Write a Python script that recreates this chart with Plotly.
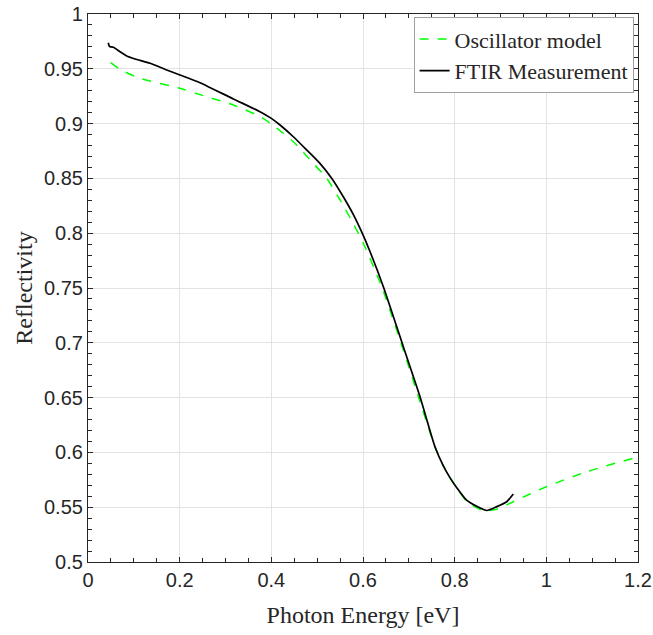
import plotly.graph_objects as go

# FTIR measurement (black solid)
ftir_x = [0.0444, 0.046, 0.048, 0.0553, 0.0698, 0.0844, 0.1026, 0.1353, 0.1717, 0.2007,
          0.2444, 0.317, 0.3753, 0.4, 0.419, 0.448, 0.477, 0.506, 0.532, 0.557, 0.579, 0.6,
          0.615, 0.6444, 0.688, 0.7244, 0.757, 0.775, 0.79, 0.805, 0.826, 0.85, 0.87, 0.892,
          0.9136, 0.928]
ftir_y = [0.9738, 0.971, 0.9702, 0.9696, 0.9656, 0.9617, 0.959, 0.955, 0.9489, 0.9443,
          0.9373, 0.9225, 0.9109, 0.9048, 0.8987, 0.888, 0.876, 0.8637, 0.85, 0.8333, 0.817, 0.7985,
          0.7835, 0.7512, 0.6964, 0.6508, 0.6052, 0.588, 0.5768, 0.5675, 0.5565, 0.5505, 0.547, 0.5505,
          0.555, 0.562]

# Oscillator model (green dashed)
osc_x = [0.0495, 0.0698, 0.1135, 0.2007, 0.2516, 0.317, 0.3753, 0.4, 0.448, 0.4916, 0.5208,
         0.55, 0.579, 0.6, 0.641, 0.688, 0.7207, 0.757, 0.775, 0.79, 0.805, 0.826, 0.8626, 0.89,
         0.928, 0.9644, 1.0, 1.088, 1.197]
osc_y = [0.9556, 0.9495, 0.9413, 0.9322, 0.9255, 0.917, 0.9065, 0.8996, 0.8835, 0.8637, 0.85,
         0.8303, 0.8085, 0.7915, 0.751, 0.6934, 0.651, 0.6052, 0.588, 0.5768, 0.5675, 0.5555, 0.5468, 0.548,
         0.555, 0.562, 0.5687, 0.5824, 0.5955]

fig = go.Figure()
fig.add_trace(go.Scatter(x=osc_x, y=osc_y, mode="lines", name="Oscillator model",
                         line=dict(color="#00ff00", width=1.5, dash="dash", shape="spline", smoothing=0.6)))
fig.add_trace(go.Scatter(x=ftir_x, y=ftir_y, mode="lines", name="FTIR Measurement",
                         line=dict(color="black", width=1.7, shape="spline", smoothing=0.6)))

serif = "Liberation Serif, DejaVu Serif"
axis_common = dict(showline=True, linecolor="#262626", linewidth=1.2, mirror="ticks",
                   ticks="inside", ticklen=5, tickcolor="#262626", automargin=False,
                   showgrid=True, gridcolor="#e3e3e3", gridwidth=1, zeroline=False,
                   tickfont=dict(family="Liberation Sans, Arial", size=20, color="#262626"))

fig.update_xaxes(range=[0, 1.2], tickvals=[0, 0.2, 0.4, 0.6, 0.8, 1, 1.2],
                 ticktext=["0", "0.2", "0.4", "0.6", "0.8", "1", "1.2"],
                 minor=dict(dtick=0.05, tick0=0, ticks="inside", ticklen=4, tickcolor="#262626", showgrid=False),
                 title=dict(text="Photon Energy [eV]", font=dict(family=serif, size=24, color="#262626"),
                            standoff=16),
                 **axis_common)
fig.update_yaxes(range=[0.5, 1], tickvals=[0.5, 0.55, 0.6, 0.65, 0.7, 0.75, 0.8, 0.85, 0.9, 0.95, 1],
                 ticktext=["0.5", "0.55", "0.6", "0.65", "0.7", "0.75", "0.8", "0.85", "0.9", "0.95", "1"],
                 minor=dict(dtick=0.01, tick0=0.5, ticks="inside", ticklen=4, tickcolor="#262626", showgrid=False),
                 title=dict(text="Reflectivity", font=dict(family=serif, size=24, color="#262626"),
                            standoff=4),
                 **axis_common)

fig.update_layout(width=653, height=635, margin=dict(l=88, r=15, t=14, b=73),
                  plot_bgcolor="white", paper_bgcolor="white",
                  legend=dict(x=0.992, y=0.994, xanchor="right", yanchor="top",
                              bgcolor="white", bordercolor="#a0a0a0", borderwidth=1,
                              font=dict(family=serif, size=22, color="#262626"),
                              itemwidth=30, tracegroupgap=0))

fig.write_html("out.html")
